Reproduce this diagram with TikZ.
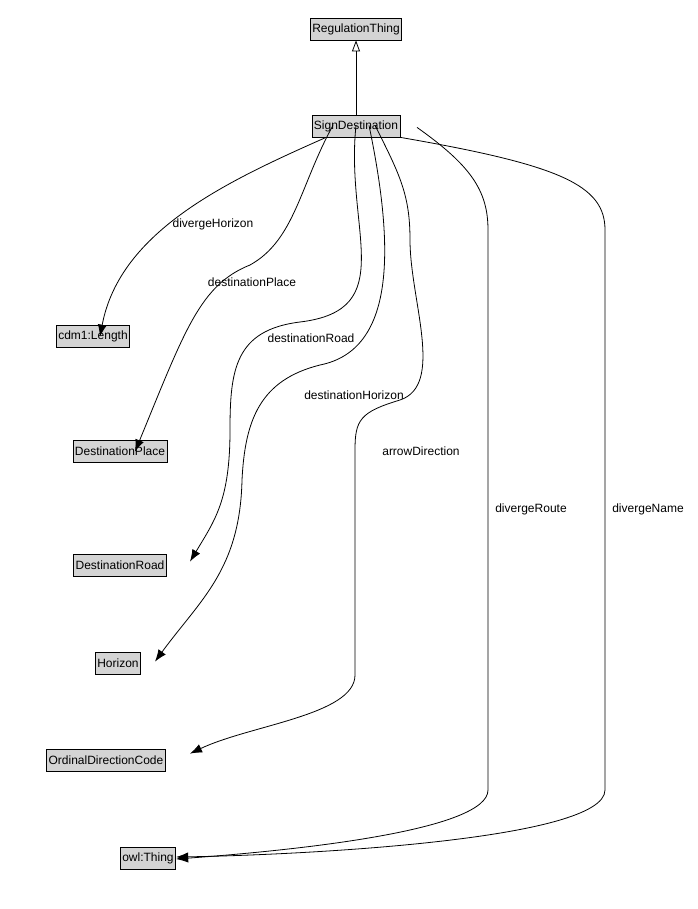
\documentclass[tikz,border=0pt]{standalone}
\usepackage{fontspec}
\setmainfont{Liberation Sans}
\usetikzlibrary{arrows.meta}
\begin{document}
\begin{tikzpicture}[x=1pt,y=-1pt,
  cls/.style={draw=black,fill=black!17,font=\fontsize{12}{14}\selectfont,inner sep=2pt,minimum height=22pt},
  lbl/.style={font=\fontsize{12}{14}\selectfont,fill=white,inner sep=1pt},
  rel/.style={-{Latex[length=12pt,width=9pt]},thick},
  every path/.style={line width=0.8pt}]
\useasboundingbox (0,0) rectangle (697,909);
\node[cls] (rt) at (356,29) {RegulationThing};
\node[cls] (sd) at (356,126) {SignDestination};
\node[cls] (len) at (93,336) {cdm1:Length};
\node[cls] (dp) at (120,451) {DestinationPlace};
\node[cls] (dr) at (120,565) {DestinationRoad};
\node[cls] (hz) at (118,663) {Horizon};
\node[cls] (odc) at (106,760) {OrdinalDirectionCode};
\node[cls] (owl) at (148,858) {owl:Thing};
\draw[-{Triangle[open,length=11pt,width=8pt]}] (sd.north) -- (rt.south);
% edges
\draw[rel] ([xshift=-30pt]sd.south) .. controls (230,180) and (120,230) .. ([xshift=7pt,yshift=-12pt]len.north);
\node[lbl,fill=none] at (213,224) {divergeHorizon};
\draw[rel] ([xshift=-23pt,yshift=12pt]sd.south) .. controls (300,185) and (295,240) .. (250,265) .. controls (200,285) and (185,330) .. ([xshift=15pt,yshift=-12pt]dp.north);
\node[lbl,fill=none] at (252,282) {destinationPlace};
\draw[rel] ([yshift=12pt]sd.south) .. controls (345,230) and (400,310) .. (300,322) .. controls (235,330) and (230,370) .. (230,430) .. controls (230,500) and (215,520) .. ([xshift=70pt,yshift=-8pt]dr.north);
\node[lbl,fill=none] at (311,338) {destinationRoad};
\draw[rel] ([xshift=13pt,yshift=12pt]sd.south) .. controls (395,250) and (395,350) .. (320,365) .. controls (260,380) and (245,420) .. (242,480) .. controls (240,570) and (200,600) .. ([xshift=37pt,yshift=-10pt]hz.north);
\node[lbl,fill=none] at (354,395) {destinationHorizon};
\draw[rel] ([xshift=19pt,yshift=12pt]sd.south) .. controls (400,175) and (410,195) .. (410,240) .. controls (410,300) and (445,385) .. (400,400) .. controls (360,412) and (355,420) .. (355,450) -- (355,675) .. controls (355,715) and (250,725) .. ([xshift=84pt,yshift=-5pt]odc.north);
\node[lbl,fill=none] at (421,451) {arrowDirection};
\draw[rel] ([xshift=61pt,yshift=10pt]sd.south) .. controls (470,165) and (488,190) .. (488,230) -- (488,790) .. controls (488,830) and (300,850) .. ([yshift=-1pt]owl.east);
\node[lbl,fill=none] at (531,509) {divergeRoute};
\draw[rel] (sd.south east) .. controls (560,165) and (605,185) .. (605,230) -- (605,790) .. controls (605,840) and (300,855) .. ([yshift=1pt]owl.east);
\node[lbl,fill=none] at (648,509) {divergeName};
\end{tikzpicture}
\end{document}
